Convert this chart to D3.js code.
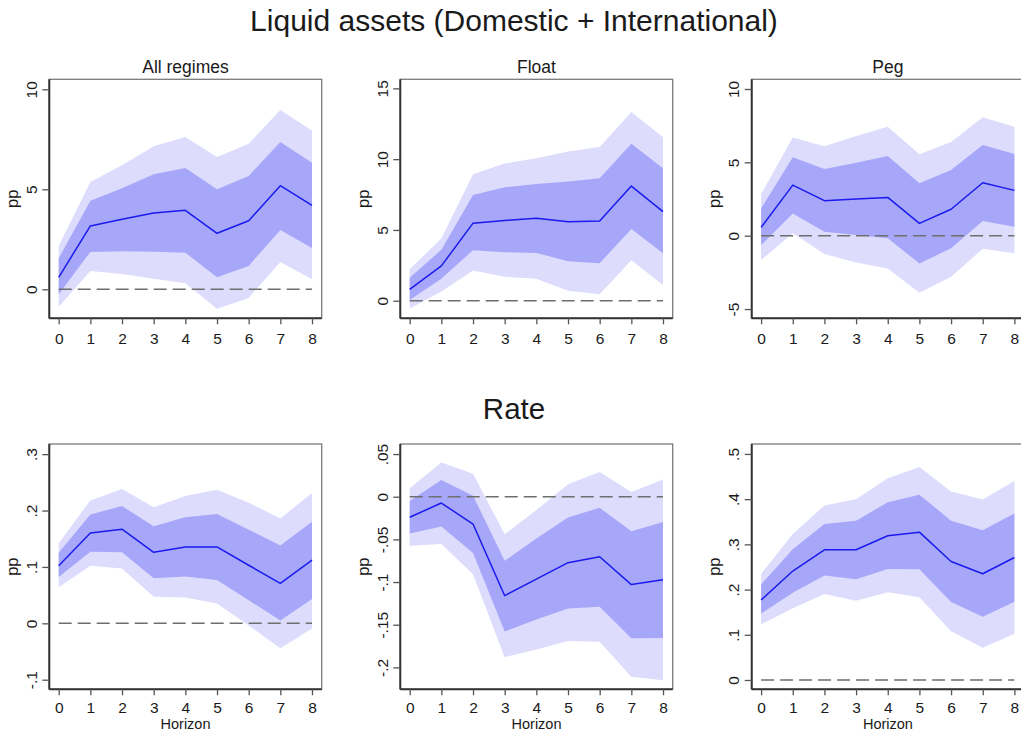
<!DOCTYPE html>
<html>
<head>
<meta charset="utf-8">
<script src="https://cdn.jsdelivr.net/npm/d3@7"></script>
<style>
  html, body { margin: 0; padding: 0; background: #fff; }
  svg { display: block; font-family: "Liberation Sans", Arial, sans-serif; }
</style>
</head>
<body>
<svg id="chart" width="1021" height="732"></svg>
<script>
// ---------------- DATA ----------------
const horizons = [0, 1, 2, 3, 4, 5, 6, 7, 8];
const xTickLabels = ["0", "1", "2", "3", "4", "5", "6", "7", "8"];

const mainTitles = ["Liquid assets (Domestic + International)", "Rate"];
const regimeTitles = ["All regimes", "Float", "Peg"];

// Liquid assets — All regimes
const liqAllIrf  = [0.60, 3.17, 3.50, 3.82, 3.95, 2.80, 3.43, 5.18, 4.20];
const liqAllHi68 = [1.55, 4.43, 5.05, 5.75, 6.07, 5.00, 5.67, 7.37, 6.33];
const liqAllLo68 = [-0.25, 1.87, 1.90, 1.88, 1.83, 0.60, 1.17, 2.97, 2.07];
const liqAllHi90 = [2.17, 5.37, 6.20, 7.15, 7.62, 6.62, 7.28, 8.97, 7.93];
const liqAllLo90 = [-0.87, 0.92, 0.77, 0.53, 0.30, -0.97, -0.43, 1.37, 0.50];

// Liquid assets — Float
const liqFloatIrf  = [0.80, 2.46, 5.48, 5.67, 5.82, 5.58, 5.63, 8.10, 6.29];
const liqFloatHi68 = [1.63, 3.60, 7.47, 8.01, 8.25, 8.42, 8.65, 11.09, 9.36];
const liqFloatLo68 = [0.05, 1.56, 3.57, 3.43, 3.38, 2.79, 2.65, 5.06, 3.36];
const liqFloatHi90 = [2.22, 4.40, 8.94, 9.69, 10.07, 10.54, 10.85, 13.33, 11.54];
const liqFloatLo90 = [-0.54, 0.66, 2.13, 1.70, 1.56, 0.71, 0.45, 2.86, 1.11];

// Liquid assets — Peg
const liqPegIrf  = [0.57, 3.45, 2.39, 2.50, 2.61, 0.84, 1.80, 3.61, 3.09];
const liqPegHi68 = [1.86, 5.34, 4.55, 4.98, 5.43, 3.57, 4.48, 6.18, 5.57];
const liqPegLo68 = [-0.64, 1.52, 0.27, 0.05, -0.18, -1.89, -0.86, 1.00, 0.61];
const liqPegHi90 = [2.84, 6.70, 6.09, 6.80, 7.43, 5.55, 6.39, 8.07, 7.43];
const liqPegLo90 = [-1.66, 0.16, -1.25, -1.82, -2.23, -3.89, -2.80, -0.89, -1.20];

// Rate — All regimes
const rateAllIrf  = [0.102, 0.160, 0.167, 0.126, 0.1355, 0.1355, 0.103, 0.071, 0.112];
const rateAllHi68 = [0.125, 0.193, 0.208, 0.172, 0.188, 0.194, 0.166, 0.138, 0.180];
const rateAllLo68 = [0.082, 0.127, 0.126, 0.080, 0.083, 0.077, 0.041, 0.005, 0.043];
const rateAllHi90 = [0.142, 0.218, 0.238, 0.206, 0.226, 0.237, 0.214, 0.186, 0.231];
const rateAllLo90 = [0.064, 0.102, 0.097, 0.047, 0.046, 0.035, -0.004, -0.044, -0.009];

// Rate — Float
const rateFloatIrf  = [-0.024, -0.0074, -0.032, -0.116, -0.0965, -0.0773, -0.0703, -0.103, -0.0973];
const rateFloatHi68 = [-0.005, 0.0195, 0.0012, -0.075, -0.049, -0.0242, -0.0129, -0.0406, -0.0297];
const rateFloatLo68 = [-0.043, -0.035, -0.066, -0.158, -0.144, -0.131, -0.129, -0.166, -0.1656];
const rateFloatHi90 = [0.0098, 0.040, 0.027, -0.044, -0.0156, 0.0145, 0.029, 0.0055, 0.0203];
const rateFloatLo90 = [-0.0574, -0.0555, -0.091, -0.188, -0.179, -0.169, -0.170, -0.211, -0.215];

// Rate — Peg
const ratePegIrf  = [0.177, 0.241, 0.288, 0.288, 0.319, 0.327, 0.262, 0.235, 0.271];
const ratePegHi68 = [0.211, 0.289, 0.345, 0.3525, 0.393, 0.410, 0.3525, 0.331, 0.368];
const ratePegLo68 = [0.147, 0.193, 0.231, 0.223, 0.2456, 0.245, 0.1726, 0.140, 0.173];
const ratePegHi90 = [0.2345, 0.323, 0.386, 0.400, 0.446, 0.471, 0.417, 0.399, 0.440];
const ratePegLo90 = [0.123, 0.1585, 0.190, 0.175, 0.194, 0.183, 0.108, 0.0715, 0.1025];

// y-axis tick values per panel
const liqAllTicks   = [0, 5, 10];
const liqFloatTicks = [0, 5, 10, 15];
const liqPegTicks   = [-5, 0, 5, 10];
const rateAllTicks   = [-0.1, 0, 0.1, 0.2, 0.3];
const rateFloatTicks = [-0.2, -0.15, -0.1, -0.05, 0, 0.05];
const ratePegTicks   = [0, 0.1, 0.2, 0.3, 0.4, 0.5];

// ---------------- LAYOUT ----------------
const svg = d3.select("#chart");
const colLeft  = [49.3, 400.3, 751.7];
const frameW   = 272.4;
const rowTop   = [79.3, 444];
const rowBot   = [318.3, 689.3];

const panels = [
  {row: 0, col: 0, irf: liqAllIrf, hi68: liqAllHi68, lo68: liqAllLo68, hi90: liqAllHi90, lo90: liqAllLo90, ticks: liqAllTicks, dom: [-1.45, 10.5]},
  {row: 0, col: 1, irf: liqFloatIrf, hi68: liqFloatHi68, lo68: liqFloatLo68, hi90: liqFloatHi90, lo90: liqFloatLo90, ticks: liqFloatTicks, dom: [-1.24, 15.64]},
  {row: 0, col: 2, irf: liqPegIrf, hi68: liqPegHi68, lo68: liqPegLo68, hi90: liqPegHi90, lo90: liqPegLo90, ticks: liqPegTicks, dom: [-5.63, 10.66]},
  {row: 1, col: 0, irf: rateAllIrf, hi68: rateAllHi68, lo68: rateAllLo68, hi90: rateAllHi90, lo90: rateAllLo90, ticks: rateAllTicks, dom: [-0.117, 0.318]},
  {row: 1, col: 1, irf: rateFloatIrf, hi68: rateFloatHi68, lo68: rateFloatLo68, hi90: rateFloatHi90, lo90: rateFloatLo90, ticks: rateFloatTicks, dom: [-0.2257, 0.0618]},
  {row: 1, col: 2, irf: ratePegIrf, hi68: ratePegHi68, lo68: ratePegLo68, hi90: ratePegHi90, lo90: ratePegLo90, ticks: ratePegTicks, dom: [-0.0206, 0.522]}
];

const stataFmt = v => {
  let s = String(+v.toFixed(4));
  s = s.replace(/^0\./, ".").replace(/^-0\./, "-.");
  return s;
};

const textColor = "#1a1a1a";
const tickFont = 15.5;

// main titles
svg.append("text").attr("x", 514).attr("y", 31).attr("text-anchor", "middle")
  .attr("font-size", 30).attr("fill", textColor).text(mainTitles[0]);
svg.append("text").attr("x", 514).attr("y", 418.5).attr("text-anchor", "middle")
  .attr("font-size", 29.5).attr("fill", textColor).text(mainTitles[1]);

panels.forEach(p => {
  const left = colLeft[p.col], right = left + frameW;
  const top = rowTop[p.row], bot = rowBot[p.row];
  const x = d3.scaleLinear().domain([0, 8]).range([left + 9.4, right - 9.7]);
  const y = d3.scaleLinear().domain(p.dom).range([bot, top]);
  const g = svg.append("g");

  const idx = d3.range(horizons.length);
  const area90 = d3.area().x(i => x(horizons[i])).y0(i => y(p.lo90[i])).y1(i => y(p.hi90[i]));
  const area68 = d3.area().x(i => x(horizons[i])).y0(i => y(p.lo68[i])).y1(i => y(p.hi68[i]));
  const line = d3.line().x(i => x(horizons[i])).y(i => y(p.irf[i]));

  g.append("path").attr("d", area90(idx)).attr("fill", "#dddcfd");
  g.append("path").attr("d", area68(idx)).attr("fill", "#a7a7f9");

  // zero reference line
  g.append("line").attr("x1", x(0)).attr("x2", x(8)).attr("y1", y(0)).attr("y2", y(0))
    .attr("stroke", "#6e6e6e").attr("stroke-width", 1.4).attr("stroke-dasharray", "13,6");

  g.append("path").attr("d", line(idx)).attr("fill", "none")
    .attr("stroke", "#1a1aee").attr("stroke-width", 1.5).attr("stroke-linejoin", "round");

  // frame
  g.append("rect").attr("x", left).attr("y", top).attr("width", right - left).attr("height", bot - top)
    .attr("fill", "none").attr("stroke", "#7a7a7a").attr("stroke-width", 1.3);

  // x axis
  const xAxis = d3.axisBottom(x).tickValues(horizons).tickFormat((d, i) => xTickLabels[i])
    .tickSizeOuter(0).tickSizeInner(6).tickPadding(5);
  const gx = g.append("g").attr("transform", `translate(0,${bot})`).call(xAxis);
  gx.select(".domain").attr("d", `M${left},0H${right}`).attr("stroke", "#333").attr("stroke-width", 2);
  gx.selectAll(".tick line").attr("stroke", "#555").attr("stroke-width", 1.3);
  gx.selectAll(".tick text").attr("font-size", tickFont).attr("fill", textColor)
    .attr("font-family", "Liberation Sans, Arial, sans-serif")
    .attr("y", p.row === 0 ? 26 : 23.5).attr("dy", null);

  // y axis
  const yAxis = d3.axisLeft(y).tickValues(p.ticks).tickFormat(stataFmt)
    .tickSizeOuter(0).tickSizeInner(7);
  const gy = g.append("g").attr("transform", `translate(${left},0)`).call(yAxis);
  gy.select(".domain").attr("d", `M0,${top}V${bot}`).attr("stroke", "#333").attr("stroke-width", 2);
  gy.selectAll(".tick line").attr("stroke", "#555").attr("stroke-width", 1.3);
  gy.selectAll(".tick text").attr("font-size", tickFont).attr("fill", textColor)
    .attr("font-family", "Liberation Sans, Arial, sans-serif")
    .attr("x", null).attr("dy", null)
    .attr("text-anchor", "middle")
    .attr("transform", "translate(-18,0) rotate(-90)")
    .attr("dy", "0.36em");

  // y axis title
  svg.append("text")
    .attr("transform", `translate(${left - 34},${(top + bot) / 2}) rotate(-90)`)
    .attr("text-anchor", "middle").attr("dy", "0.15em")
    .attr("font-size", 16.5).attr("fill", textColor).text("pp");

  // panel subtitle (top row) / x title (bottom row)
  if (p.row === 0) {
    svg.append("text").attr("x", (left + right) / 2).attr("y", 72.5).attr("text-anchor", "middle")
      .attr("font-size", 17.5).attr("fill", textColor).text(regimeTitles[p.col]);
  } else {
    svg.append("text").attr("x", (left + right) / 2).attr("y", 729).attr("text-anchor", "middle")
      .attr("font-size", 14.5).attr("fill", textColor).text("Horizon");
  }
});
</script>
</body>
</html>
